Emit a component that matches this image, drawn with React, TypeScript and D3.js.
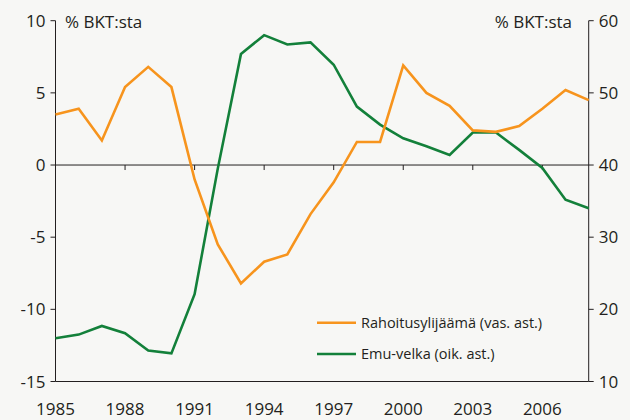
import React from 'react';
import * as d3 from 'd3';

// Years on the x axis
const years = d3.range(1985, 2009);

// Rahoitusylijäämä, % BKT:sta (left axis)
const surplus = [
  3.5, 3.9, 1.7, 5.4, 6.8, 5.4, -1.0, -5.5, -8.2, -6.7, -6.2, -3.4,
  -1.2, 1.6, 1.6, 6.9, 5.0, 4.1, 2.4, 2.3, 2.7, 3.9, 5.2, 4.5,
];

// Emu-velka, % BKT:sta (right axis)
const debt = [
  16.0, 16.5, 17.7, 16.7, 14.3, 13.9, 22.1, 39.5, 55.4, 58.0, 56.7, 57.0,
  53.9, 48.1, 45.6, 43.7, 42.6, 41.4, 44.5, 44.5, 42.1, 39.6, 35.2, 34.0,
];

const leftTicks = [-15, -10, -5, 0, 5, 10];
const rightTicks = [10, 20, 30, 40, 50, 60];
const yearTicks = [1985, 1988, 1991, 1994, 1997, 2000, 2003, 2006];

const unitLabel = '% BKT:sta';
const legendLabels = ['Rahoitusylijäämä (vas. ast.)', 'Emu-velka (oik. ast.)'];

const ORANGE = '#f7941d';
const GREEN = '#13803a';
const INK = '#231f20';
const FONT = "'Open Sans', sans-serif";

const W = 630;
const H = 420;
const left = 55.5;
const right = 588.7;
const top = 20.7;
const bottom = 381.5;

export default function App() {
  const x = d3.scaleLinear().domain([1985, 2008]).range([left, right]);
  const yL = d3.scaleLinear().domain([-15, 10]).range([bottom, top]);
  const yR = d3.scaleLinear().domain([10, 60]).range([bottom, top]);

  const lineL = d3.line<number>().x((_, i) => x(years[i])).y(d => yL(d));
  const lineR = d3.line<number>().x((_, i) => x(years[i])).y(d => yR(d));

  return (
    <svg
      width={W}
      height={H}
      style={{ position: 'absolute', left: 0, top: 0, background: '#f7f7f5' }}
      fontFamily={FONT}
    >
      <rect x={0} y={0} width={W} height={H} fill="#f7f7f5" />

      {/* zero line with year ticks */}
      <line x1={left} x2={right} y1={yL(0)} y2={yL(0)} stroke={INK} strokeWidth={1} />
      {yearTicks.slice(1).map(t => (
        <line key={t} x1={x(t)} x2={x(t)} y1={yL(0)} y2={yL(0) + 5} stroke={INK} strokeWidth={1} />
      ))}

      {/* frame: left, right, bottom */}
      <line x1={left} x2={left} y1={top} y2={bottom} stroke={INK} strokeWidth={1} />
      <line x1={right} x2={right} y1={top} y2={bottom} stroke={INK} strokeWidth={1} />
      <line x1={left} x2={right} y1={bottom} y2={bottom} stroke={INK} strokeWidth={1} />

      {/* left axis */}
      {leftTicks.map(t => (
        <g key={t}>
          <line x1={left - 5} x2={left} y1={yL(t)} y2={yL(t)} stroke={INK} strokeWidth={1} />
          <text x={left - 10} y={yL(t)} dy="0.36em" textAnchor="end" fontSize={17} fill={INK}>
            {t}
          </text>
        </g>
      ))}

      {/* right axis */}
      {rightTicks.map(t => (
        <g key={t}>
          <line x1={right} x2={right + 5} y1={yR(t)} y2={yR(t)} stroke={INK} strokeWidth={1} />
          <text x={right + 10} y={yR(t)} dy="0.36em" textAnchor="start" fontSize={17} fill={INK}>
            {t}
          </text>
        </g>
      ))}

      {/* year labels */}
      {yearTicks.map(t => (
        <text key={t} x={x(t)} y={414.5} textAnchor="middle" fontSize={17} fill={INK}>
          {t}
        </text>
      ))}

      {/* unit labels */}
      <text x={65} y={28} fontSize={17} fill={INK}>{unitLabel}</text>
      <text x={572} y={28} textAnchor="end" fontSize={17} fill={INK}>{unitLabel}</text>

      {/* series */}
      <path d={lineR(debt) || ''} fill="none" stroke={GREEN} strokeWidth={2.6} strokeLinejoin="miter" />
      <path d={lineL(surplus) || ''} fill="none" stroke={ORANGE} strokeWidth={2.6} strokeLinejoin="miter" />

      {/* legend */}
      {legendLabels.map((label, i) => (
        <g key={label} transform={`translate(317,${322.7 + i * 31.3})`}>
          <line x1={0} x2={39} y1={0} y2={0} stroke={i === 0 ? ORANGE : GREEN} strokeWidth={2.6} />
          <text x={44} y={0} dy="0.36em" fontSize={14.5} fill={INK}>
            {label}
          </text>
        </g>
      ))}
    </svg>
  );
}
